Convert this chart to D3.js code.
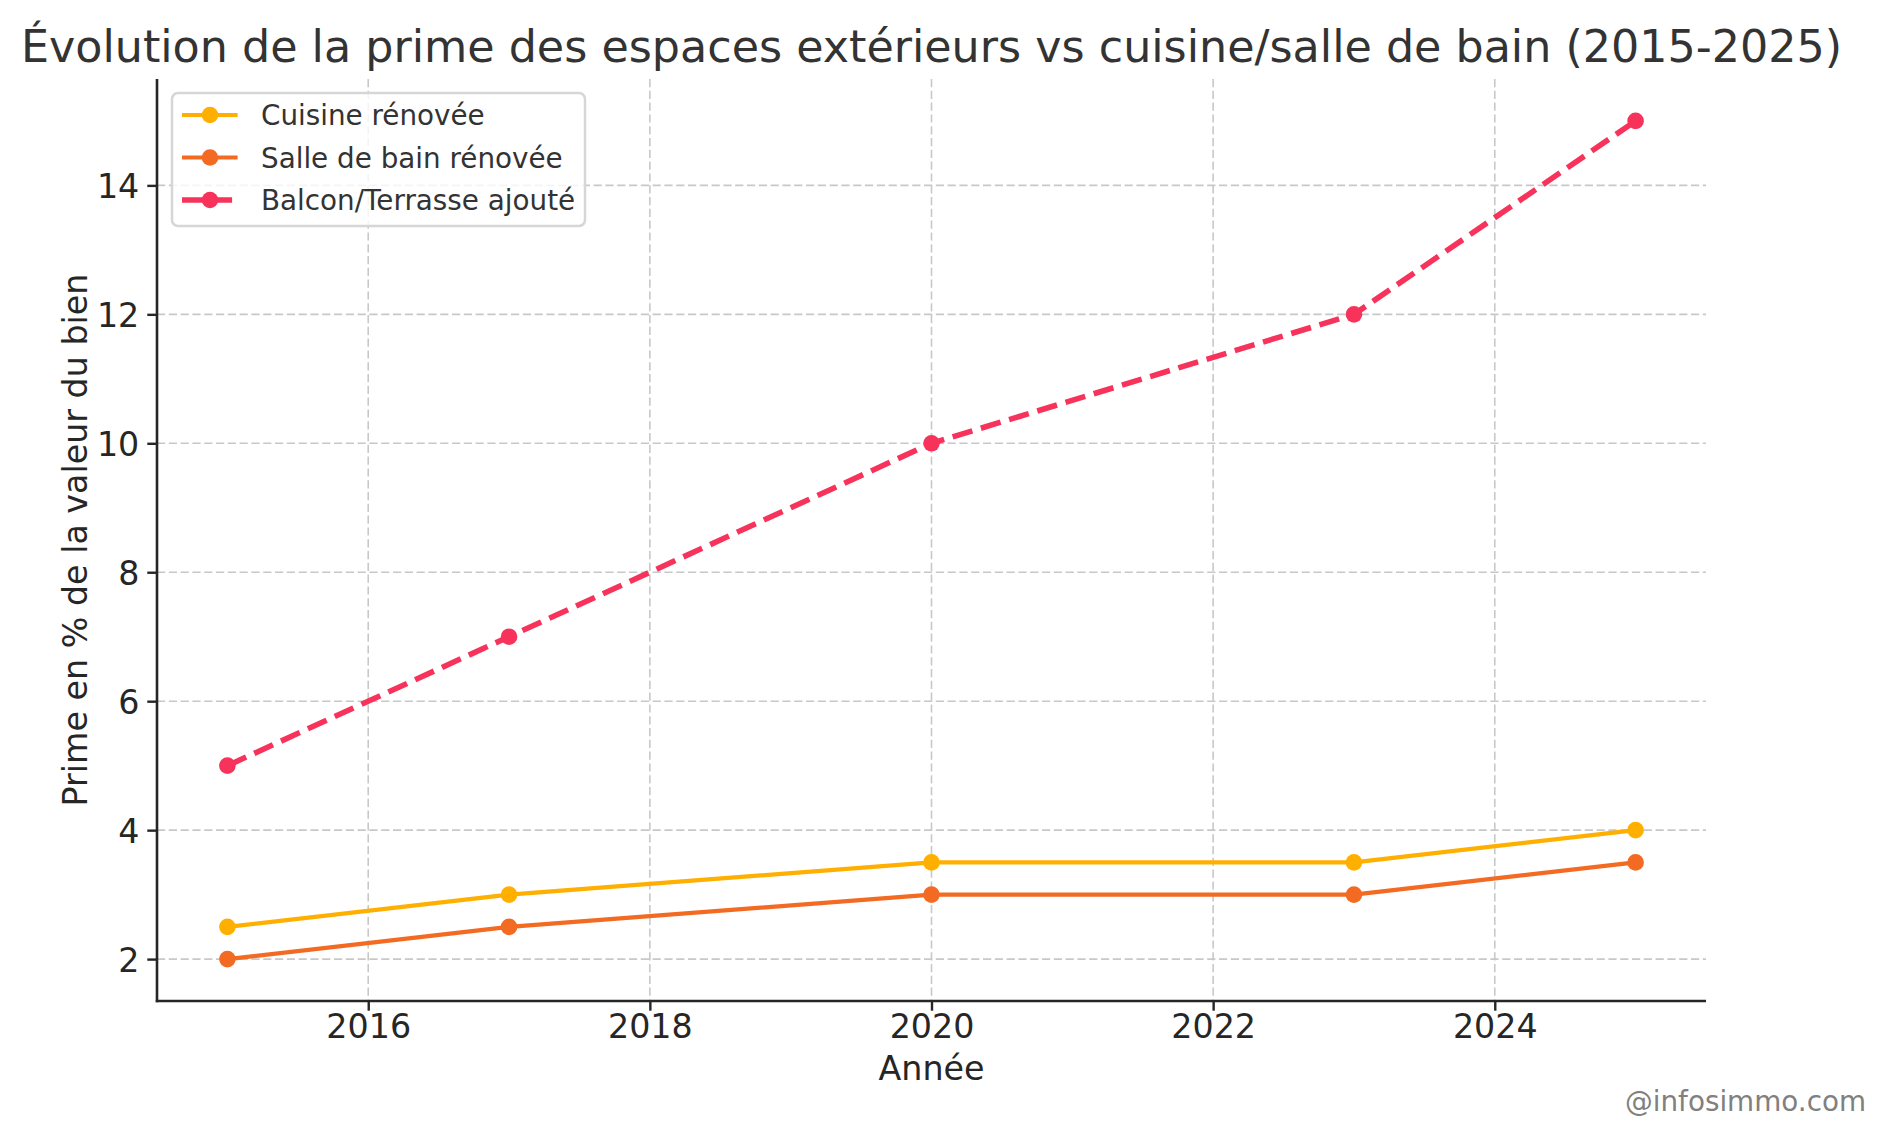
<!DOCTYPE html>
<html>
<head>
<meta charset="utf-8">
<script src="https://cdn.jsdelivr.net/npm/d3@7"></script>
<style>
  html, body { margin: 0; padding: 0; background: #ffffff; }
  svg { display: block; font-family: "DejaVu Sans", sans-serif; }
</style>
</head>
<body>
<svg id="chart" width="1887" height="1136"></svg>
<script>
const years = [2015, 2017, 2020, 2023, 2025];
const cuisine = [2.5, 3.0, 3.5, 3.5, 4.0];
const salleDeBain = [2.0, 2.5, 3.0, 3.0, 3.5];
const balcon = [5, 7, 10, 12, 15];
const seriesNames = ["Cuisine rénovée", "Salle de bain rénovée", "Balcon/Terrasse ajouté"];
const seriesColors = ["#FFAF00", "#F36A22", "#F7325B"];
const xTicks = [2016, 2018, 2020, 2022, 2024];
const yTicks = [2, 4, 6, 8, 10, 12, 14];
const chartTitle = "Évolution de la prime des espaces extérieurs vs cuisine/salle de bain (2015-2025)";
const xLabel = "Année";
const yLabel = "Prime en % de la valeur du bien";
const watermark = "@infosimmo.com";

const series = [
  { name: seriesNames[0], values: cuisine, color: seriesColors[0], dashed: false },
  { name: seriesNames[1], values: salleDeBain, color: seriesColors[1], dashed: false },
  { name: seriesNames[2], values: balcon, color: seriesColors[2], dashed: true }
];

const svg = d3.select("#chart");
const pLeft = 157, pRight = 1706, pTop = 79, pBottom = 1001;

const x = d3.scaleLinear().domain([2014.5, 2025.5]).range([pLeft, pRight]);
const y = d3.scaleLinear().domain([1.35, 15.65]).range([pBottom, pTop]);

// grid
const grid = svg.append("g");
grid.selectAll("line.gx").data(xTicks).join("line")
  .attr("x1", d => x(d)).attr("x2", d => x(d))
  .attr("y1", pTop).attr("y2", pBottom)
  .attr("stroke", "#c8c8c8").attr("stroke-width", 1.6).attr("stroke-dasharray", "8.2,3.6");
grid.selectAll("line.gy").data(yTicks).join("line")
  .attr("x1", pLeft).attr("x2", pRight)
  .attr("y1", d => y(d)).attr("y2", d => y(d))
  .attr("stroke", "#c8c8c8").attr("stroke-width", 1.6).attr("stroke-dasharray", "8.2,3.6");

// axes
const xAxis = d3.axisBottom(x).tickValues(xTicks).tickFormat(d3.format("d")).tickSize(9.7).tickPadding(11);
const yAxis = d3.axisLeft(y).tickValues(yTicks).tickFormat(d3.format("d")).tickSize(9.7).tickPadding(8);

const gx = svg.append("g").attr("transform", `translate(0,${pBottom})`).call(xAxis);
const gy = svg.append("g").attr("transform", `translate(${pLeft},0)`).call(yAxis);
[gx, gy].forEach(g => {
  g.select(".domain").remove();
  g.selectAll(".tick line").attr("stroke", "#262626").attr("stroke-width", 2.4);
  g.selectAll(".tick text").attr("fill", "#262626").attr("font-size", 33.3)
    .attr("font-family", "DejaVu Sans");
});
gx.selectAll(".tick text").attr("dy", null).attr("y", 37).attr("dominant-baseline", "auto");
gy.selectAll(".tick text").attr("dy", null).attr("dominant-baseline", "auto").attr("y", 12.3);

// spines
svg.append("line").attr("x1", pLeft).attr("x2", pLeft).attr("y1", pTop).attr("y2", pBottom + 1.2)
  .attr("stroke", "#262626").attr("stroke-width", 2.6);
svg.append("line").attr("x1", pLeft - 1.2).attr("x2", pRight).attr("y1", pBottom).attr("y2", pBottom)
  .attr("stroke", "#262626").attr("stroke-width", 2.6);

// lines
const line = d3.line().x(d => x(d[0])).y(d => y(d[1]));
series.forEach(s => {
  const pts = years.map((yr, i) => [yr, s.values[i]]);
  svg.append("path").datum(pts)
    .attr("d", line)
    .attr("fill", "none")
    .attr("stroke", s.color)
    .attr("stroke-width", s.dashed ? 5.56 : 4.17)
    .attr("stroke-dasharray", s.dashed ? "20.6,8.9" : null)
    .attr("stroke-linejoin", "round")
    .attr("stroke-linecap", s.dashed ? "butt" : "square");
  svg.append("g").selectAll("circle").data(pts).join("circle")
    .attr("cx", d => x(d[0])).attr("cy", d => y(d[1]))
    .attr("r", 8.3).attr("fill", s.color);
});

// title
svg.append("text").attr("x", (pLeft + pRight) / 2).attr("y", 62)
  .attr("text-anchor", "middle").attr("font-size", 44.4).attr("fill", "#333333")
  .text(chartTitle);

// axis labels
svg.append("text").attr("x", (pLeft + pRight) / 2).attr("y", 1080)
  .attr("text-anchor", "middle").attr("font-size", 33.3).attr("fill", "#262626")
  .text(xLabel);
svg.append("text").attr("transform", `translate(87,${(pTop + pBottom) / 2}) rotate(-90)`)
  .attr("text-anchor", "middle").attr("font-size", 33.3).attr("fill", "#262626")
  .text(yLabel);

// legend
const lg = svg.append("g");
lg.append("rect").attr("x", 172).attr("y", 93).attr("width", 413).attr("height", 133)
  .attr("rx", 6).attr("ry", 6)
  .attr("fill", "#ffffff").attr("fill-opacity", 0.8)
  .attr("stroke", "#d6d6d6").attr("stroke-width", 2.5);
const rowY = [115, 157.5, 200];
series.forEach((s, i) => {
  const g = lg.append("g");
  g.append("line").attr("x1", 182).attr("x2", 237.6).attr("y1", rowY[i]).attr("y2", rowY[i])
    .attr("stroke", s.color).attr("stroke-width", s.dashed ? 5.56 : 4.17)
    .attr("stroke-dasharray", s.dashed ? "20.6,8.9" : null);
  g.append("circle").attr("cx", 210).attr("cy", rowY[i]).attr("r", 8.3).attr("fill", s.color);
  g.append("text").attr("x", 261).attr("y", rowY[i] + 10)
    .attr("font-size", 27.8).attr("fill", "#333333").text(s.name);
});

// watermark
svg.append("text").attr("x", 1866).attr("y", 1110.5)
  .attr("text-anchor", "end").attr("font-size", 27.8).attr("fill", "#808080")
  .text(watermark);
</script>
</body>
</html>
